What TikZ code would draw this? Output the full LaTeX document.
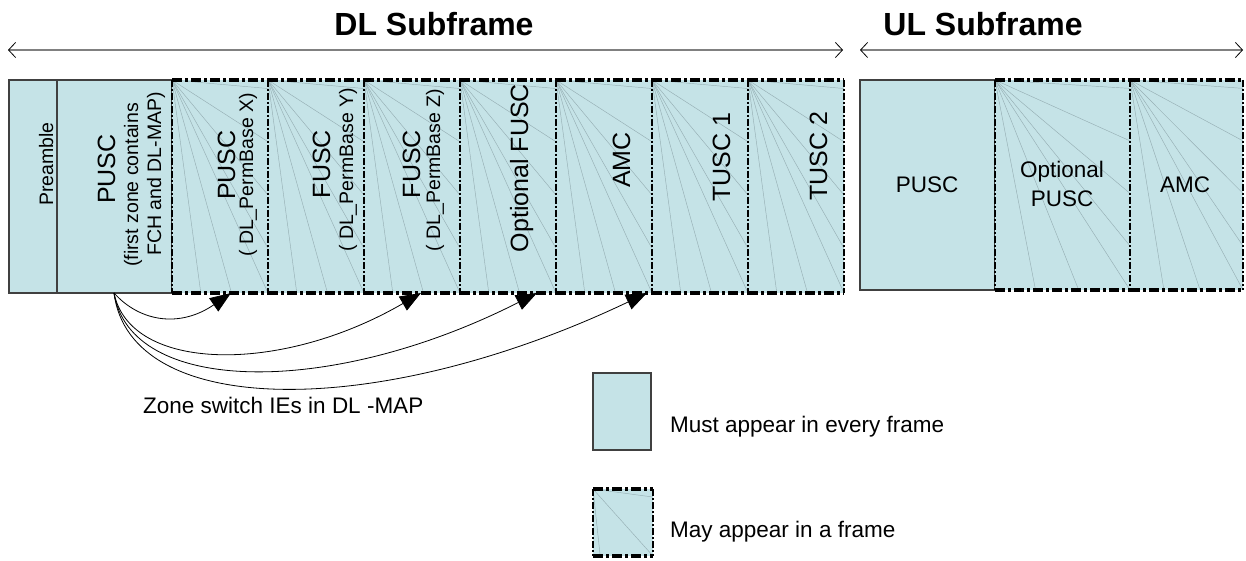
\documentclass[tikz,border=0pt]{standalone}
\usepackage{fontspec}
\setmainfont{Liberation Sans}
\usetikzlibrary{arrows.meta,calc}
\definecolor{zfill}{RGB}{197,227,231}
\definecolor{fang}{RGB}{150,175,180}
\definecolor{hdr}{RGB}{128,128,128}
\newcommand\optzone[1]{%
  \foreach \f in {0.04,0.29,0.54,0.79,1} \draw[fan] (#1.north west) -- ($(#1.north east)!\f!(#1.south east)$);
  \foreach \f in {0.3,0.62} \draw[fan] (#1.north west) -- ($(#1.south west)!\f!(#1.south east)$);
  \draw[dtb] (#1.north west) -- (#1.north east) (#1.south west) -- (#1.south east);
  \draw[dside] (#1.north west) -- (#1.south west) (#1.north east) -- (#1.south east);
}
\begin{document}
\begin{tikzpicture}[x=1pt,y=-1pt,
  solidbox/.style={draw=black!75, line width=1.2pt, fill=zfill, inner sep=0pt, outer sep=0pt, anchor=north west},
  optbox/.style={fill=zfill, inner sep=0pt, outer sep=0pt, anchor=north west},
  fan/.style={draw=fang, line width=0.45pt},
  dtb/.style={line width=3.4pt, dash pattern=on 10pt off 3pt on 3pt off 3pt},
  dside/.style={line width=2pt, dash pattern=on 7pt off 2pt on 2pt off 2pt},
  big/.style={font=\fontsize{25}{30}\selectfont, inner sep=0pt, rotate=90, anchor=base},
  small/.style={font=\fontsize{19.5}{23}\selectfont, inner sep=0pt, rotate=90, anchor=base},
  ultext/.style={font=\fontsize{22.5}{27}\selectfont, inner sep=0pt, anchor=base},
  plain/.style={font=\fontsize{22.5}{27}\selectfont, inner sep=0pt, anchor=base west},
  head/.style={font=\fontsize{32}{38}\selectfont\bfseries, inner sep=0pt, anchor=base},
  span/.style={draw=hdr, line width=2pt, {Straight Barb[length=7pt,width=15pt,black,line width=0.8pt]}-{Straight Barb[length=7pt,width=15pt,black,line width=0.8pt]}},
  sw/.style={draw=black, line width=0.8pt, -{Triangle[length=21pt,width=16pt]}}
]
\useasboundingbox (0,0) rectangle (1246,561);

% header
\node[head] (dlh) at (434,36) {DL Subframe};
\node[head] (ulh) at (983,36) {UL Subframe};
\coordinate (dlL) at (8,50);
\coordinate (dlR) at (843,50);
\coordinate (ulL) at (860,50);
\coordinate (ulR) at (1243,50);
\draw[span] (dlL) -- (dlR);
\draw[span] (ulL) -- (ulR);

% DL mandatory zones
\node[solidbox, minimum width=48pt, minimum height=213pt] (pre) at (9,80) {};
\node[solidbox, minimum width=115pt, minimum height=213pt] (p1) at (57,80) {};

% DL optional zones
\node[optbox, minimum width=96pt, minimum height=213pt] (pX) at (172,80) {};
\node[optbox, minimum width=96pt, minimum height=213pt] (fY) at (268,80) {};
\node[optbox, minimum width=96pt, minimum height=213pt] (fZ) at (364,80) {};
\node[optbox, minimum width=96pt, minimum height=213pt] (oF) at (460,80) {};
\node[optbox, minimum width=96pt, minimum height=213pt] (amc) at (556,80) {};
\node[optbox, minimum width=96pt, minimum height=213pt] (t1) at (652,80) {};
\node[optbox, minimum width=96pt, minimum height=213pt] (t2) at (748,80) {};
\foreach \n in {pX,fY,fZ,oF,amc,t1,t2} {\optzone{\n}}

% UL zones
\node[solidbox, minimum width=135pt, minimum height=210pt] (ulP) at (860,80) {};
\node[optbox, minimum width=135pt, minimum height=210pt] (ulO) at (995,80) {};
\node[optbox, minimum width=113pt, minimum height=210pt] (ulA) at (1130,80) {};
\optzone{ulO}
\optzone{ulA}

% DL texts
\node[small] (tpre) at (53,164) {Preamble};
\node[big] (tp1a) at (115,169) {PUSC};
\node[small] (tp1b) at (138,185) {(first zone contains};
\node[small] (tp1c) at (161,174) {FCH and DL-MAP)};
\node[big] (tpXa) at (235,165) {PUSC};
\node[small] (tpXb) at (253,175) {( DL\_PermBase X)};
\node[big] (tfYa) at (330,164) {FUSC};
\node[small] (tfYb) at (353,170) {( DL\_PermBase Y)};
\node[big] (tfZa) at (420,164) {FUSC};
\node[small] (tfZb) at (440,170) {( DL\_PermBase Z)};
\node[big] (toF) at (528,168) {Optional FUSC};
\node[big] (tamc) at (630,160) {AMC};
\node[big] (tt1) at (730,157) {TUSC 1};
\node[big] (tt2) at (827,156) {TUSC 2};

% UL texts
\node[ultext] (tulP) at (927,193) {PUSC};
\node[ultext] (tulOa) at (1062,178) {Optional};
\node[ultext] (tulOb) at (1062,207) {PUSC};
\node[ultext] (tulA) at (1185,193) {AMC};

% zone switch arrows
\coordinate (src) at ($(p1.south west)+(57,0)$);
\coordinate (d1) at ($(pX.south west)+(59,0)$);
\coordinate (d2) at ($(fZ.south west)+(57,0)$);
\coordinate (d3) at ($(oF.south west)+(77,0)$);
\coordinate (d4) at ($(amc.south west)+(91,0)$);
\draw[sw] (src) .. controls (140,322) and (180,328) .. (d1);
\draw[sw] (src) .. controls (130,372) and (280,375) .. (d2);
\draw[sw] (src) .. controls (130,395) and (330,398) .. (d3);
\draw[sw] (src) .. controls (130,420) and (380,420) .. (d4);
\node[plain] (zs) at (143,413) {Zone switch IEs in DL -MAP};

% legend
\node[solidbox, minimum width=58pt, minimum height=77pt] (legA) at (593,373) {};
\node[plain] (legAt) at (670,432) {Must appear in every frame};
\node[optbox, minimum width=60pt, minimum height=67pt] (legB) at (593,489) {};
\draw[fan] (legB.north west) -- ($(legB.north east)!0.12!(legB.south east)$);
\draw[fan] (legB.north west) -- (legB.south east);
\draw[fan] (legB.north west) -- ($(legB.south west)!0.12!(legB.south east)$);
\draw[dtb] (legB.north west) -- (legB.north east) (legB.south west) -- (legB.south east);
\draw[dside] (legB.north west) -- (legB.south west) (legB.north east) -- (legB.south east);
\node[plain] (legBt) at (670,537) {May appear in a frame};
\end{tikzpicture}
\end{document}
